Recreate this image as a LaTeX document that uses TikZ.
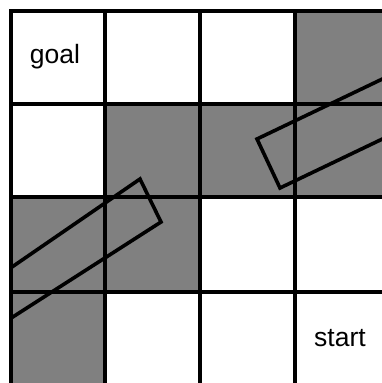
\documentclass[tikz,border=0pt]{standalone}
\usepackage{fontspec}
\setmainfont{Liberation Sans}
\tikzset{
  cellgray/.style={fill={rgb,255:red,128;green,128;blue,128}},
  gridline/.style={line width=4pt},
  robot/.style={line width=3.6pt, line join=miter},
  label/.style={font=\fontsize{26.5}{30}\selectfont, inner sep=0pt}
}
\begin{document}
\begin{tikzpicture}[x=1pt,y=-1pt]
\useasboundingbox (0,0) rectangle (382,383);
\clip (0,0) rectangle (382,383);
% occupied cells
\fill[cellgray] (295,11) rectangle (390,104);
\fill[cellgray] (105,104) rectangle (390,197);
\fill[cellgray] (11,197) rectangle (200,292);
\fill[cellgray] (11,292) rectangle (105,390);
% grid
\foreach \x in {11,105,200,295}
{
  \draw[gridline] (\x,9) -- (\x,390);
}
\foreach \y in {11,104,197,292}
{
  \draw[gridline] (9,\y) -- (390,\y);
}
\node[label] (goal) at (55,57) {goal};
\node[label] (start) at (340,338) {start};
% the two poses of the robot
\begin{scope}
\clip (11,11) rectangle (382,383);
\draw[robot] (420,61) -- (257,139) -- (280,188) -- (420,121);
\draw[robot] (-20,289) -- (140,179) -- (161,222) -- (-20,338);
\end{scope}
\end{tikzpicture}
\end{document}
